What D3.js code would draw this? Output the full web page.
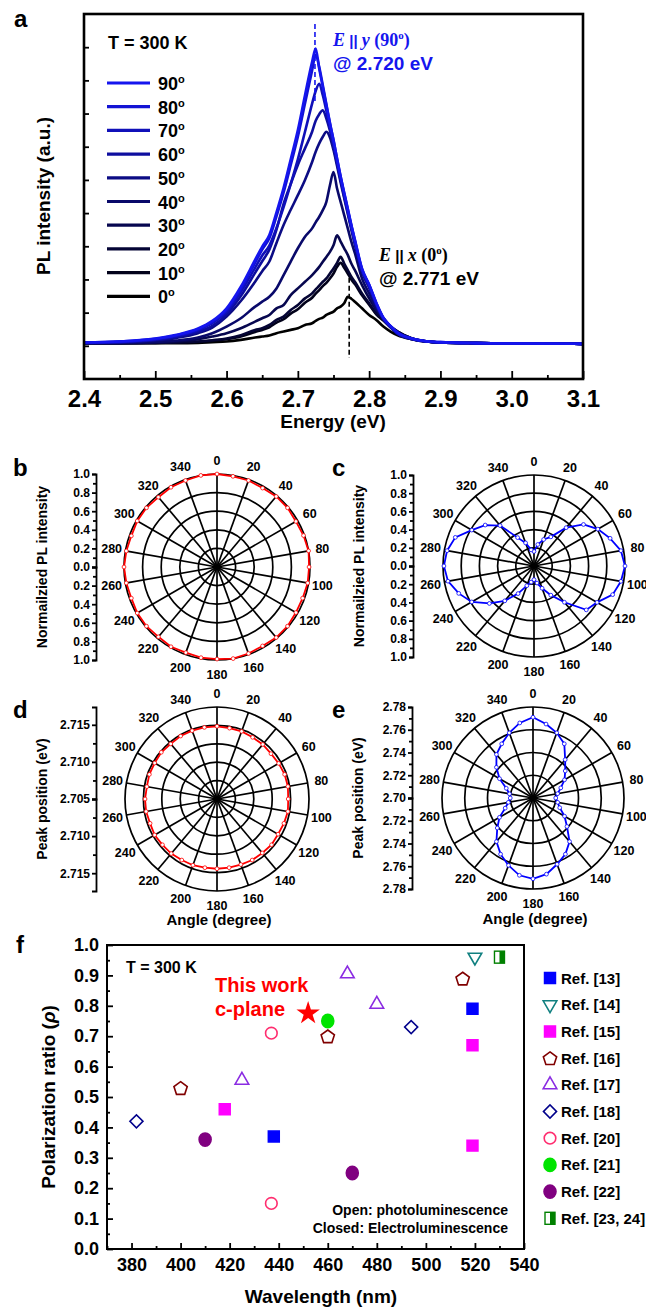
<!DOCTYPE html>
<html>
<head>
<meta charset="utf-8">
<script src="https://cdn.jsdelivr.net/npm/d3@7"></script>
<style>
  body { margin: 0; background: #fff; }
  svg { font-family: "Liberation Sans", Arial, sans-serif; font-weight: bold; }
</style>
</head>
<body>
<svg id="fig" width="646" height="1308"></svg>
<script>
// ---- data: panel a, PL spectra for each polarizer angle ----
const energy = [2.40, 2.45, 2.50, 2.53, 2.56, 2.58, 2.60, 2.62, 2.64, 2.65, 2.66, 2.67, 2.68, 2.69, 2.70,
  2.71, 2.72, 2.725, 2.73, 2.735, 2.74, 2.745, 2.75, 2.755, 2.76, 2.765, 2.77, 2.775, 2.78, 2.79, 2.80,
  2.81, 2.82, 2.83, 2.84, 2.86, 2.88, 2.90, 2.95, 3.00, 3.10];
const angles = [0, 10, 20, 30, 40, 50, 60, 70, 80, 90];
const pl0 = [0.08, 0.08, 0.08, 0.08, 0.09, 0.11, 0.13, 0.18, 0.25, 0.28, 0.31, 0.38, 0.43, 0.48, 0.53, 0.63, 0.68, 0.75, 0.81, 0.85, 0.93, 0.98, 1.03, 1.13, 1.18, 1.28, 1.48, 1.42, 1.33, 1.13, 0.93, 0.78, 0.58, 0.43, 0.32, 0.20, 0.13, 0.10, 0.08, 0.07, 0.06];
const pl10 = [0.08, 0.08, 0.09, 0.10, 0.12, 0.15, 0.20, 0.28, 0.42, 0.48, 0.56, 0.70, 0.80, 0.97, 1.10, 1.30, 1.45, 1.57, 1.68, 1.80, 1.90, 2.03, 2.18, 2.38, 2.50, 2.35, 2.18, 2.00, 1.86, 1.52, 1.24, 0.95, 0.76, 0.56, 0.42, 0.22, 0.13, 0.10, 0.08, 0.07, 0.06];
const pl20 = [0.08, 0.08, 0.09, 0.10, 0.13, 0.17, 0.22, 0.32, 0.48, 0.53, 0.63, 0.78, 0.88, 1.08, 1.23, 1.43, 1.58, 1.70, 1.81, 1.93, 2.03, 2.18, 2.33, 2.50, 2.68, 2.48, 2.28, 2.08, 1.93, 1.58, 1.28, 0.98, 0.78, 0.58, 0.43, 0.22, 0.13, 0.10, 0.08, 0.07, 0.06];
const pl30 = [0.08, 0.08, 0.10, 0.13, 0.20, 0.28, 0.38, 0.53, 0.73, 0.83, 0.93, 1.13, 1.23, 1.53, 1.73, 1.93, 2.13, 2.25, 2.38, 2.53, 2.68, 2.83, 3.03, 3.33, 3.14, 2.94, 2.74, 2.48, 2.28, 1.83, 1.43, 1.08, 0.83, 0.58, 0.43, 0.22, 0.14, 0.10, 0.08, 0.07, 0.06];
const pl40 = [0.08, 0.09, 0.12, 0.16, 0.25, 0.38, 0.58, 0.83, 1.18, 1.33, 1.48, 1.73, 2.13, 2.54, 2.94, 3.29, 3.54, 3.72, 3.89, 4.09, 4.34, 4.84, 5.24, 4.74, 4.34, 3.94, 3.54, 3.14, 2.79, 2.03, 1.58, 1.13, 0.83, 0.58, 0.38, 0.20, 0.13, 0.10, 0.08, 0.07, 0.06];
const pl50 = [0.09, 0.10, 0.16, 0.24, 0.38, 0.55, 0.88, 1.35, 1.93, 2.25, 2.54, 3.10, 3.64, 4.10, 4.54, 5.00, 5.54, 5.85, 6.10, 6.30, 6.45, 6.28, 5.90, 5.42, 4.92, 4.45, 3.98, 3.50, 3.05, 2.22, 1.75, 1.22, 0.80, 0.56, 0.36, 0.20, 0.13, 0.10, 0.08, 0.07, 0.06];
const pl60 = [0.09, 0.11, 0.18, 0.27, 0.42, 0.60, 0.95, 1.50, 2.20, 2.55, 2.90, 3.50, 4.28, 4.88, 5.45, 5.95, 6.45, 6.78, 6.98, 7.10, 6.85, 6.48, 6.00, 5.50, 5.00, 4.50, 4.02, 3.55, 3.10, 2.25, 1.78, 1.24, 0.81, 0.57, 0.37, 0.21, 0.13, 0.10, 0.08, 0.07, 0.06];
const pl70 = [0.10, 0.12, 0.20, 0.30, 0.47, 0.68, 1.02, 1.62, 2.35, 2.72, 3.02, 3.55, 4.18, 4.88, 5.62, 6.45, 7.30, 7.68, 7.90, 7.55, 7.08, 6.58, 6.08, 5.56, 5.04, 4.55, 4.07, 3.60, 3.14, 2.29, 1.82, 1.27, 0.83, 0.58, 0.38, 0.21, 0.13, 0.10, 0.08, 0.07, 0.06];
const pl80 = [0.10, 0.13, 0.21, 0.32, 0.50, 0.72, 1.08, 1.72, 2.50, 2.90, 3.24, 3.90, 4.62, 5.45, 6.30, 7.30, 8.30, 8.78, 8.40, 7.85, 7.28, 6.72, 6.20, 5.64, 5.10, 4.60, 4.12, 3.63, 3.18, 2.31, 1.84, 1.29, 0.84, 0.59, 0.39, 0.22, 0.14, 0.11, 0.08, 0.07, 0.06];
const pl90 = [0.10, 0.13, 0.22, 0.33, 0.52, 0.75, 1.13, 1.78, 2.59, 2.99, 3.34, 4.02, 4.76, 5.62, 6.50, 7.55, 8.56, 8.96, 8.35, 7.80, 7.25, 6.70, 6.20, 5.64, 5.10, 4.62, 4.14, 3.65, 3.20, 2.33, 1.85, 1.30, 0.85, 0.60, 0.40, 0.22, 0.14, 0.11, 0.08, 0.07, 0.06];
const spectra = [pl0, pl10, pl20, pl30, pl40, pl50, pl60, pl70, pl80, pl90];
const energyTicks = [2.4, 2.5, 2.6, 2.7, 2.8, 2.9, 3.0, 3.1];
const energyMinor = [2.45, 2.55, 2.65, 2.75, 2.85, 2.95, 3.05];
const peakY = 2.724, peakX = 2.772;

// ---- data: panels b-e, polar plots ----
const polarAngle = [0, 10, 20, 30, 40, 50, 60, 70, 80, 90, 100, 110, 120, 130, 140, 150, 160, 170,
  180, 190, 200, 210, 220, 230, 240, 250, 260, 270, 280, 290, 300, 310, 320, 330, 340, 350];
const angleTicks = [0, 20, 40, 60, 80, 100, 120, 140, 160, 180, 200, 220, 240, 260, 280, 300, 320, 340];
const intensityB = [1.00, 0.99, 0.99, 0.98, 0.99, 0.99, 0.98, 0.99, 1.00, 0.99, 0.99, 0.98, 0.98, 0.99, 0.99, 0.98, 0.99, 1.00,
  0.99, 0.99, 0.98, 0.99, 0.98, 0.99, 0.99, 0.98, 0.99, 1.00, 0.99, 0.98, 0.99, 0.99, 0.98, 0.99, 0.99, 1.00];
const intensityC = [0.16, 0.24, 0.31, 0.37, 0.55, 0.71, 0.81, 0.89, 0.97, 1.00, 0.97, 0.92, 0.80, 0.75, 0.52, 0.37, 0.26, 0.19,
  0.15, 0.18, 0.23, 0.35, 0.50, 0.64, 0.79, 0.88, 0.96, 0.99, 0.97, 0.92, 0.79, 0.70, 0.58, 0.36, 0.27, 0.18];
const peakD = [2.7148, 2.7147, 2.7147, 2.7146, 2.7146, 2.7145, 2.7146, 2.7147, 2.7147, 2.7146, 2.7147, 2.7146, 2.7145, 2.7146, 2.7145, 2.7145, 2.7144, 2.7144,
  2.7144, 2.7144, 2.7145, 2.7145, 2.7146, 2.7146, 2.7147, 2.7146, 2.7147, 2.7147, 2.7146, 2.7147, 2.7147, 2.7148, 2.7147, 2.7148, 2.7148, 2.7148];
const peakE = [2.771, 2.766, 2.761, 2.755, 2.744, 2.737, 2.732, 2.726, 2.722, 2.720, 2.722, 2.725, 2.732, 2.739, 2.750, 2.757, 2.762, 2.768,
  2.771, 2.769, 2.763, 2.757, 2.750, 2.741, 2.734, 2.726, 2.722, 2.720, 2.721, 2.725, 2.734, 2.742, 2.750, 2.755, 2.761, 2.767];

// ---- data: panel f, polarization ratio vs wavelength ----
const refLabels = ["Ref. [13]", "Ref. [14]", "Ref. [15]", "Ref. [16]", "Ref. [17]", "Ref. [18]", "Ref. [20]", "Ref. [21]", "Ref. [22]", "Ref. [23, 24]"];
const refWavelength = [[438, 519], [520], [418, 519, 519], [400, 460, 515], [425, 468, 480], [382, 494], [437, 437], [460], [410, 470], [530]];
const refRatio = [[0.37, 0.79], [0.96], [0.46, 0.67, 0.34], [0.53, 0.70, 0.89], [0.555, 0.905, 0.805], [0.42, 0.73], [0.71, 0.15], [0.75], [0.36, 0.25], [0.96]];
const thisWorkWavelength = 452, thisWorkRatio = 0.775;
const wlTicks = [380, 400, 420, 440, 460, 480, 500, 520, 540];
const wlMinor = [370, 390, 410, 430, 450, 470, 490, 510, 530];
const rhoTicks = [0, 0.1, 0.2, 0.3, 0.4, 0.5, 0.6, 0.7, 0.8, 0.9, 1.0];
const rhoMinor = [0.05, 0.15, 0.25, 0.35, 0.45, 0.55, 0.65, 0.75, 0.85, 0.95];

// marker styles for panel f, same order as refLabels
const refSymbol = ["square", "triDown", "square", "pentagon", "triangle", "diamond", "circle", "circle", "circle", "half"];
const refColor = ["#0000ff", "#118080", "#ff00ff", "#800000", "#8a2be2", "#00008b", "#ff2d6f", "#00e400", "#800080", "#008000"];
const refFilled = [true, false, true, false, false, false, false, true, true, false];

const FONT = '"Liberation Sans", Arial, sans-serif';
const svg = d3.select("#fig");

function styleAxis(g, size) {
  g.attr("font-size", size).attr("font-family", FONT).attr("font-weight", "bold");
  g.selectAll("line").attr("stroke-width", 1.8);
  g.selectAll("text").attr("fill", "#000");
}

function letter(txt, x, y) {
  svg.append("text").attr("x", x).attr("y", y).attr("font-size", 24).text(txt);
}

/**
 * panel a
 */
const xa = d3.scaleLinear().domain([2.4, 3.1]).range([84, 583]);
const ya = d3.scaleLinear().domain([-1, 10]).range([379, 14]);
const shade = d3.scaleLinear().domain([0, 90]).range(["#000000", "#1515ee"]);

const gA = svg.append("g");
const specLine = d3.line()
  .x((d, i) => xa(energy[i]))
  .y(d => ya(d))
  .curve(d3.curveMonotoneX);

gA.selectAll("path.spec")
  .data(spectra)
  .join("path")
  .attr("class", "spec")
  .attr("d", specLine)
  .attr("fill", "none")
  .attr("stroke", (d, i) => shade(angles[i]))
  .attr("stroke-width", 2.6)
  .attr("stroke-linejoin", "round");

// dashed markers at the two peak energies
gA.append("line")
  .attr("x1", xa(peakY)).attr("x2", xa(peakY))
  .attr("y1", ya(9.7)).attr("y2", ya(7.3))
  .attr("stroke", "#1515ee").attr("stroke-width", 1.6).attr("stroke-dasharray", "5,3");
gA.append("line")
  .attr("x1", xa(peakX)).attr("x2", xa(peakX))
  .attr("y1", ya(2.05)).attr("y2", ya(-0.37))
  .attr("stroke", "#000").attr("stroke-width", 1.6).attr("stroke-dasharray", "5,3");

gA.append("g")
  .attr("transform", "translate(0,379)")
  .call(d3.axisBottom(xa).tickValues(energyTicks).tickSize(-8).tickPadding(11).tickFormat(d3.format(".1f")))
  .call(g => g.select(".domain").remove())
  .call(g => styleAxis(g, 24));
gA.append("g")
  .attr("transform", "translate(0,379)")
  .call(d3.axisBottom(xa).tickValues(energyMinor).tickSize(-4).tickFormat(""))
  .call(g => g.select(".domain").remove())
  .call(g => styleAxis(g, 24));
gA.append("g")
  .attr("transform", "translate(84,0)")
  .call(d3.axisLeft(ya).tickValues([0, 1, 2, 3, 4, 5, 6, 7, 8, 9]).tickSize(-5).tickFormat(""))
  .call(g => g.select(".domain").remove())
  .call(g => styleAxis(g, 10));

gA.append("rect")
  .attr("x", 84).attr("y", 14).attr("width", 499).attr("height", 365)
  .attr("fill", "none").attr("stroke", "#000").attr("stroke-width", 2.6);

gA.append("text").attr("x", 333).attr("y", 428).attr("text-anchor", "middle")
  .attr("font-size", 19).text("Energy (eV)");
gA.append("text").attr("transform", "translate(43,196) rotate(-90)").attr("dy", "0.35em")
  .attr("text-anchor", "middle").attr("font-size", 19).text("PL intensity (a.u.)");
gA.append("text").attr("x", 108).attr("y", 49).attr("font-size", 18).text("T = 300 K");

// legend, 90 deg on top
const legA = gA.append("g");
angles.slice().reverse().forEach((a, k) => {
  const y = 83 + k * 23.7;
  legA.append("line").attr("x1", 107).attr("x2", 150).attr("y1", y).attr("y2", y)
    .attr("stroke", shade(a)).attr("stroke-width", 3.2);
  const t = legA.append("text").attr("x", 158).attr("y", y + 7).attr("font-size", 18);
  t.append("tspan").text(a);
  t.append("tspan").attr("font-size", 11).attr("dy", -7).text("o");
});

function eLabel(x, y, color, axisName, deg, energyTxt) {
  const t = gA.append("text").attr("x", x).attr("y", y).attr("fill", color).attr("font-size", 18);
  t.append("tspan").attr("font-family", "Liberation Serif, serif").attr("font-style", "italic").text("E");
  t.append("tspan").text(" || ").attr("font-size", 15);
  t.append("tspan").attr("font-family", "Liberation Serif, serif").attr("font-style", "italic").text(axisName);
  t.append("tspan").attr("font-family", "Liberation Serif, serif").text(" (" + deg);
  t.append("tspan").attr("font-family", "Liberation Serif, serif").attr("font-size", 11).attr("dy", -7).text("o");
  t.append("tspan").attr("font-family", "Liberation Serif, serif").attr("dy", 7).text(")");
  gA.append("text").attr("x", x).attr("y", y + 24).attr("fill", color).attr("font-size", 19)
    .text("@ " + energyTxt + " eV");
}
eLabel(333, 46, "#1515ee", "y", 90, "2.720");
eLabel(379, 261, "#000", "x", 0, "2.771");

/**
 * panels b-e, polar plots
 */
function polar(o) {
  const g = svg.append("g").attr("transform", `translate(${o.cx},${o.cy})`);
  const r = d3.scaleLinear().domain(o.domain).range([0, o.R]);
  const rad = a => a * Math.PI / 180;

  g.selectAll("circle.ring")
    .data(d3.range(1, o.rings + 1))
    .join("circle")
    .attr("r", k => o.R * k / o.rings)
    .attr("fill", "none").attr("stroke", "#000").attr("stroke-width", 1.7);

  g.selectAll("line.spoke")
    .data(angleTicks)
    .join("line")
    .attr("x2", a => o.R * Math.sin(rad(a)))
    .attr("y2", a => -o.R * Math.cos(rad(a)))
    .attr("stroke", "#000").attr("stroke-width", 1.7);

  g.selectAll("text.ang")
    .data(angleTicks)
    .join("text")
    .attr("x", a => (o.R + 14) * Math.sin(rad(a)))
    .attr("y", a => -(o.R + 14) * Math.cos(rad(a)))
    .attr("dy", "0.36em").attr("text-anchor", "middle").attr("font-size", 12.5)
    .text(a => a);

  const radial = d3.lineRadial()
    .angle((d, i) => rad(polarAngle[i]))
    .radius(d => r(d))
    .curve(d3.curveLinearClosed);
  g.append("path").attr("d", radial(o.values))
    .attr("fill", "none").attr("stroke", o.color).attr("stroke-width", 1.8);
  g.selectAll("circle.pt")
    .data(o.values)
    .join("circle")
    .attr("cx", (d, i) => r(d) * Math.sin(rad(polarAngle[i])))
    .attr("cy", (d, i) => -r(d) * Math.cos(rad(polarAngle[i])))
    .attr("r", 1.9).attr("fill", "#fff").attr("stroke", o.color).attr("stroke-width", 0.8);

  // left radial axis, mirrored about the centre
  const up = d3.scaleLinear().domain(o.domain).range([0, -o.R]);
  const down = d3.scaleLinear().domain(o.domain).range([0, o.R]);
  const ax = g.append("g").attr("transform", `translate(${-121},0)`);
  ax.append("g").call(d3.axisLeft(up).tickValues(o.ticks).tickSize(4).tickSizeOuter(4).tickPadding(2).tickFormat(d3.format(o.fmt)))
    .call(s => styleAxis(s, 12));
  ax.append("g").call(d3.axisLeft(down).tickValues(o.ticks.slice(1)).tickSize(4).tickSizeOuter(4).tickPadding(2).tickFormat(d3.format(o.fmt)))
    .call(s => styleAxis(s, 12));
  ax.append("g").call(d3.axisLeft(up).tickValues(o.minor).tickSize(3).tickFormat(""))
    .call(s => s.select(".domain").remove()).call(s => styleAxis(s, 12));
  ax.append("g").call(d3.axisLeft(down).tickValues(o.minor).tickSize(3).tickFormat(""))
    .call(s => s.select(".domain").remove()).call(s => styleAxis(s, 12));
  ax.selectAll(".domain").attr("stroke-width", 1.8);

  g.append("text").attr("transform", `translate(${-175},0) rotate(-90)`).attr("dy", "0.35em")
    .attr("text-anchor", "middle").attr("font-size", 14).text(o.title);
  if (o.xlabel) {
    g.append("text").attr("x", 2).attr("y", 126).attr("text-anchor", "middle")
      .attr("font-size", 15).text(o.xlabel);
  }
}

polar({ cx: 217, cy: 567, R: 93, rings: 5, domain: [0, 1], values: intensityB, color: "#ff0000",
  ticks: [0, 0.2, 0.4, 0.6, 0.8, 1.0], minor: [0.1, 0.3, 0.5, 0.7, 0.9], fmt: ".1f",
  title: "Normailzied PL intensity" });
polar({ cx: 534, cy: 566, R: 91, rings: 5, domain: [0, 1], values: intensityC, color: "#0000ff",
  ticks: [0, 0.2, 0.4, 0.6, 0.8, 1.0], minor: [0.1, 0.3, 0.5, 0.7, 0.9], fmt: ".1f",
  title: "Normailzied PL intensity" });
polar({ cx: 217, cy: 799, R: 92, rings: 5, domain: [2.705, 2.7174], values: peakD, color: "#ff0000",
  ticks: [2.705, 2.710, 2.715], minor: [2.7075, 2.7125], fmt: ".3f",
  title: "Peak position (eV)", xlabel: "Angle (degree)" });
polar({ cx: 533, cy: 798, R: 91, rings: 4, domain: [2.70, 2.78], values: peakE, color: "#0000ff",
  ticks: [2.70, 2.72, 2.74, 2.76, 2.78], minor: [2.71, 2.73, 2.75, 2.77], fmt: ".2f",
  title: "Peak position (eV)", xlabel: "Angle (degree)" });

/**
 * panel f
 */
const xf = d3.scaleLinear().domain([370, 540]).range([107, 524]);
const yf = d3.scaleLinear().domain([0, 1]).range([1249, 945]);
const gF = svg.append("g");

gF.append("g").attr("transform", "translate(0,1249)")
  .call(d3.axisBottom(xf).tickValues(wlTicks).tickSize(-6).tickPadding(9))
  .call(g => g.select(".domain").remove())
  .call(g => styleAxis(g, 18));
gF.append("g").attr("transform", "translate(0,1249)")
  .call(d3.axisBottom(xf).tickValues(wlMinor).tickSize(-3).tickFormat(""))
  .call(g => g.select(".domain").remove())
  .call(g => styleAxis(g, 18));
gF.append("g").attr("transform", "translate(107,0)")
  .call(d3.axisLeft(yf).tickValues(rhoTicks).tickSize(-6).tickPadding(8).tickFormat(d3.format(".1f")))
  .call(g => g.select(".domain").remove())
  .call(g => styleAxis(g, 18));
gF.append("g").attr("transform", "translate(107,0)")
  .call(d3.axisLeft(yf).tickValues(rhoMinor).tickSize(-3).tickFormat(""))
  .call(g => g.select(".domain").remove())
  .call(g => styleAxis(g, 18));
gF.append("rect")
  .attr("x", 107).attr("y", 945).attr("width", 417).attr("height", 304)
  .attr("fill", "none").attr("stroke", "#000").attr("stroke-width", 2);

const pentagon = d3.range(5).map(k => {
  const a = -Math.PI / 2 + k * 2 * Math.PI / 5;
  return [7 * Math.cos(a), 7 * Math.sin(a) + 0.8];
});

function marker(g, kind, color, filled) {
  const fill = filled ? color : "#fff";
  if (kind === "square") {
    g.append("path").attr("d", d3.symbol(d3.symbolSquare, 120)()).attr("fill", fill).attr("stroke", color).attr("stroke-width", 1.5);
  } else if (kind === "triangle" || kind === "triDown") {
    g.append("path").attr("d", d3.symbol(d3.symbolTriangle, 80)())
      .attr("transform", kind === "triDown" ? "rotate(180)" : null)
      .attr("fill", fill).attr("stroke", color).attr("stroke-width", 1.6);
  } else if (kind === "diamond") {
    g.append("path").attr("d", d3.symbol(d3.symbolSquare, 85)()).attr("transform", "rotate(45)")
      .attr("fill", fill).attr("stroke", color).attr("stroke-width", 1.6);
  } else if (kind === "circle") {
    g.append("ellipse").attr("rx", filled ? 6 : 5.8).attr("ry", filled ? 6.6 : 5.8)
      .attr("fill", fill).attr("stroke", color).attr("stroke-width", 1.6);
  } else if (kind === "pentagon") {
    g.append("path").attr("d", d3.line()(pentagon) + "Z").attr("fill", fill).attr("stroke", color).attr("stroke-width", 1.6);
  } else if (kind === "half") {
    g.append("rect").attr("x", -5).attr("y", -6).attr("width", 10).attr("height", 12)
      .attr("fill", "#fff").attr("stroke", color).attr("stroke-width", 1.4);
    g.append("rect").attr("x", 0).attr("y", -6).attr("width", 5).attr("height", 12).attr("fill", color);
  }
}

refLabels.forEach((name, i) => {
  refWavelength[i].forEach((wl, j) => {
    const g = gF.append("g").attr("transform", `translate(${xf(wl)},${yf(refRatio[i][j])})`);
    marker(g, refSymbol[i], refColor[i], refFilled[i]);
  });
  const ly = 978 + i * 26.7;
  marker(gF.append("g").attr("transform", `translate(550,${ly})`), refSymbol[i], refColor[i], refFilled[i]);
  gF.append("text").attr("x", 561).attr("y", ly + 5.5).attr("font-size", 15).text(name);
});

gF.append("path")
  .attr("d", d3.symbol(d3.symbolStar, 170)())
  .attr("transform", `translate(${xf(thisWorkWavelength)},${yf(thisWorkRatio)})`)
  .attr("fill", "#ff0000");

gF.append("text").attr("x", 215).attr("y", 992).attr("fill", "#ff0000").attr("font-size", 20).text("This work");
gF.append("text").attr("x", 215).attr("y", 1016).attr("fill", "#ff0000").attr("font-size", 20).text("c-plane");
gF.append("text").attr("x", 126).attr("y", 973).attr("font-size", 16).text("T = 300 K");
gF.append("text").attr("x", 508).attr("y", 1215).attr("text-anchor", "end").attr("font-size", 14).text("Open: photoluminescence");
gF.append("text").attr("x", 508).attr("y", 1233).attr("text-anchor", "end").attr("font-size", 14).text("Closed: Electroluminescence");

gF.append("text").attr("x", 321).attr("y", 1303).attr("text-anchor", "middle").attr("font-size", 19).text("Wavelength (nm)");
const yl = gF.append("text").attr("transform", "translate(48,1097) rotate(-90)").attr("dy", "0.35em")
  .attr("text-anchor", "middle").attr("font-size", 19);
yl.append("tspan").text("Polarization ratio (");
yl.append("tspan").attr("font-style", "italic").text("\u03c1");
yl.append("tspan").text(")");

// panel letters
letter("a", 14, 27);
letter("b", 13, 476);
letter("c", 332, 476);
letter("d", 13, 718);
letter("e", 332, 718);
letter("f", 16, 953);
</script>
</body>
</html>
